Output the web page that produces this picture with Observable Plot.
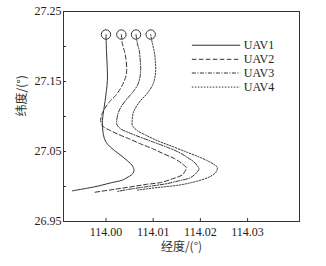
<!DOCTYPE html>
<html>
<head>
<meta charset="utf-8">
<script src="https://cdn.jsdelivr.net/npm/d3@7"></script>
<script src="https://cdn.jsdelivr.net/npm/@observablehq/plot@0.6"></script>
<style>
  html, body { margin: 0; padding: 0; background: #fff; }
</style>
</head>
<body>
<div id="chart"></div>
<script>
const seriesNames = ["UAV1", "UAV2", "UAV3", "UAV4"];
const xTicks = [114.00, 114.01, 114.02, 114.03];
const yTickLabels = [26.95, 27.05, 27.15, 27.25];
const yTicksAll = [26.95, 27.00, 27.05, 27.10, 27.15, 27.20, 27.25];
const xLabel = "经度/(°)";
const yLabel = "纬度/(°)";

const uav1Lon = [114.0000, 114.0001, 114.00025, 114.0003, 114.0001, 113.99983, 113.99951, 113.99924, 113.99928, 113.99945, 113.99994, 114.0010, 114.00269, 114.00453, 114.00566, 114.00593, 114.00559, 114.00439, 114.00347, 114.0010, 113.99852, 113.99606, 113.99288];
const uav1Lat = [27.2171, 27.1946, 27.1731, 27.1516, 27.1372, 27.1229, 27.1085, 27.0941, 27.0841, 27.0741, 27.0641, 27.0559, 27.0468, 27.0368, 27.0289, 27.0225, 27.0177, 27.0124, 27.0091, 27.0052, 27.0009, 26.9976, 26.9938];

const uav2Lon = [114.00326, 114.00347, 114.00386, 114.00417, 114.00439, 114.00407, 114.00333, 114.00206, 114.00078, 113.99994, 113.99919, 113.99888, 113.99909, 113.99958, 114.0010, 114.00242, 114.00481, 114.00735, 114.00989, 114.01229, 114.01456, 114.01619, 114.01703, 114.01667, 114.01619, 114.01413, 114.01159, 114.00862, 114.00593, 114.00311, 114.0010, 113.99746];
const uav2Lat = [27.2171, 27.2042, 27.1946, 27.1850, 27.1659, 27.1544, 27.1430, 27.1301, 27.1214, 27.1133, 27.1042, 27.0942, 27.0884, 27.0846, 27.0798, 27.0751, 27.0684, 27.0608, 27.0540, 27.0464, 27.0397, 27.0321, 27.0268, 27.0210, 27.0167, 27.0110, 27.0057, 27.0031, 27.0002, 26.9973, 26.9952, 26.9916];

const uav3Lon = [114.00636, 114.00665, 114.00703, 114.0072, 114.00735, 114.00714, 114.00665, 114.00544, 114.00417, 114.00311, 114.00254, 114.00227, 114.00233, 114.00311, 114.00481, 114.00735, 114.01011, 114.01301, 114.0154, 114.01725, 114.01858, 114.01936, 114.0197, 114.01936, 114.01794, 114.0154, 114.01301, 114.01011, 114.00735, 114.00481, 114.00248];
const uav3Lat = [27.2171, 27.2042, 27.1946, 27.1850, 27.1659, 27.1544, 27.1444, 27.1329, 27.1229, 27.1128, 27.1038, 27.0942, 27.0884, 27.0823, 27.0770, 27.0702, 27.0633, 27.0559, 27.0490, 27.0415, 27.0354, 27.0296, 27.0253, 27.0210, 27.0128, 27.0081, 27.0042, 27.0012, 26.9985, 26.9959, 26.9930];

const uav4Lon = [114.00947, 114.00983, 114.01017, 114.01038, 114.01053, 114.01032, 114.00983, 114.00873, 114.00735, 114.00629, 114.00572, 114.00555, 114.00561, 114.00665, 114.00841, 114.01089, 114.01392, 114.01725, 114.01964, 114.02148, 114.02282, 114.0236, 114.02324, 114.02218, 114.02076, 114.01837, 114.01583, 114.01328, 114.01089, 114.00862, 114.00665];
const uav4Lat = [27.2171, 27.2042, 27.1946, 27.1850, 27.1659, 27.1544, 27.1444, 27.1329, 27.1229, 27.1128, 27.1038, 27.0942, 27.0870, 27.0798, 27.0734, 27.0655, 27.0576, 27.0487, 27.0425, 27.0368, 27.0318, 27.0272, 27.0200, 27.0146, 27.0105, 27.0060, 27.0024, 27.0002, 26.9985, 26.9966, 26.9948];

const lons = [uav1Lon, uav2Lon, uav3Lon, uav4Lon];
const lats = [uav1Lat, uav2Lat, uav3Lat, uav4Lat];
const dashes = [null, "4.5,2.5", "4,1.5,1,1.5", "1.5,1.5"];
const ink = "#333";
const cjk = "'Noto Sans CJK SC', sans-serif";

const tracks = seriesNames.map((name, i) => lons[i].map((lon, j) => ({name, lon, lat: lats[i][j]})));
const starts = tracks.map(t => t[0]);

// legend placement (data units, inside the top-right of the frame)
const legX1 = 114.0183, legX2 = 114.02854, legXT = 114.0292;
const legY = [27.2018, 27.1817, 27.1621, 27.1420];
const legend = seriesNames.map((name, i) => ({name, y: legY[i]}));

const marks = [
  Plot.frame({stroke: ink, strokeWidth: 1}),
  Plot.axisX({ticks: xTicks, tickFormat: d3.format(".2f"), tickSize: 0, tickPadding: 6, label: null, fill: "#222"}),
  Plot.axisX({ticks: xTicks, tickSize: -3, tickFormat: () => "", label: null, stroke: ink}),
  Plot.axisY({ticks: yTickLabels, tickFormat: d3.format(".2f"), tickSize: 0, tickPadding: 2, label: null, fill: "#222"}),
  Plot.axisY({ticks: yTicksAll, tickSize: -3, tickFormat: () => "", label: null, stroke: ink}),
  Plot.text([xLabel], {frameAnchor: "bottom", dy: 29, fontFamily: cjk, fontSize: 12, fill: "#333"}),
  Plot.text([yLabel], {frameAnchor: "left", dx: -41, rotate: -90, fontFamily: cjk, fontSize: 12, fill: "#333"})
];

tracks.forEach((t, i) => {
  marks.push(Plot.line(t, {x: "lon", y: "lat", stroke: ink, strokeWidth: 1, strokeDasharray: dashes[i], curve: "catmull-rom"}));
  marks.push(Plot.ruleY([legend[i]], {y: "y", x1: legX1, x2: legX2, stroke: ink, strokeWidth: 1, strokeDasharray: dashes[i]}));
});
marks.push(Plot.dot(starts, {x: "lon", y: "lat", r: 4.7, stroke: ink, strokeWidth: 1, fill: "none"}));
marks.push(Plot.text(legend, {x: () => legXT, y: "y", text: "name", textAnchor: "start", fontSize: 12, fill: "#222"}));

const chart = Plot.plot({
  width: 326,
  height: 266,
  marginLeft: 63,
  marginRight: 27,
  marginTop: 11,
  marginBottom: 45,
  x: {domain: [113.991, 114.041]},
  y: {domain: [26.95, 27.25]},
  style: {fontFamily: "'Liberation Serif', 'Times New Roman', serif", fontSize: "12px", color: "#222", background: "#fff"},
  marks
});
document.getElementById("chart").appendChild(chart);
</script>
</body>
</html>
